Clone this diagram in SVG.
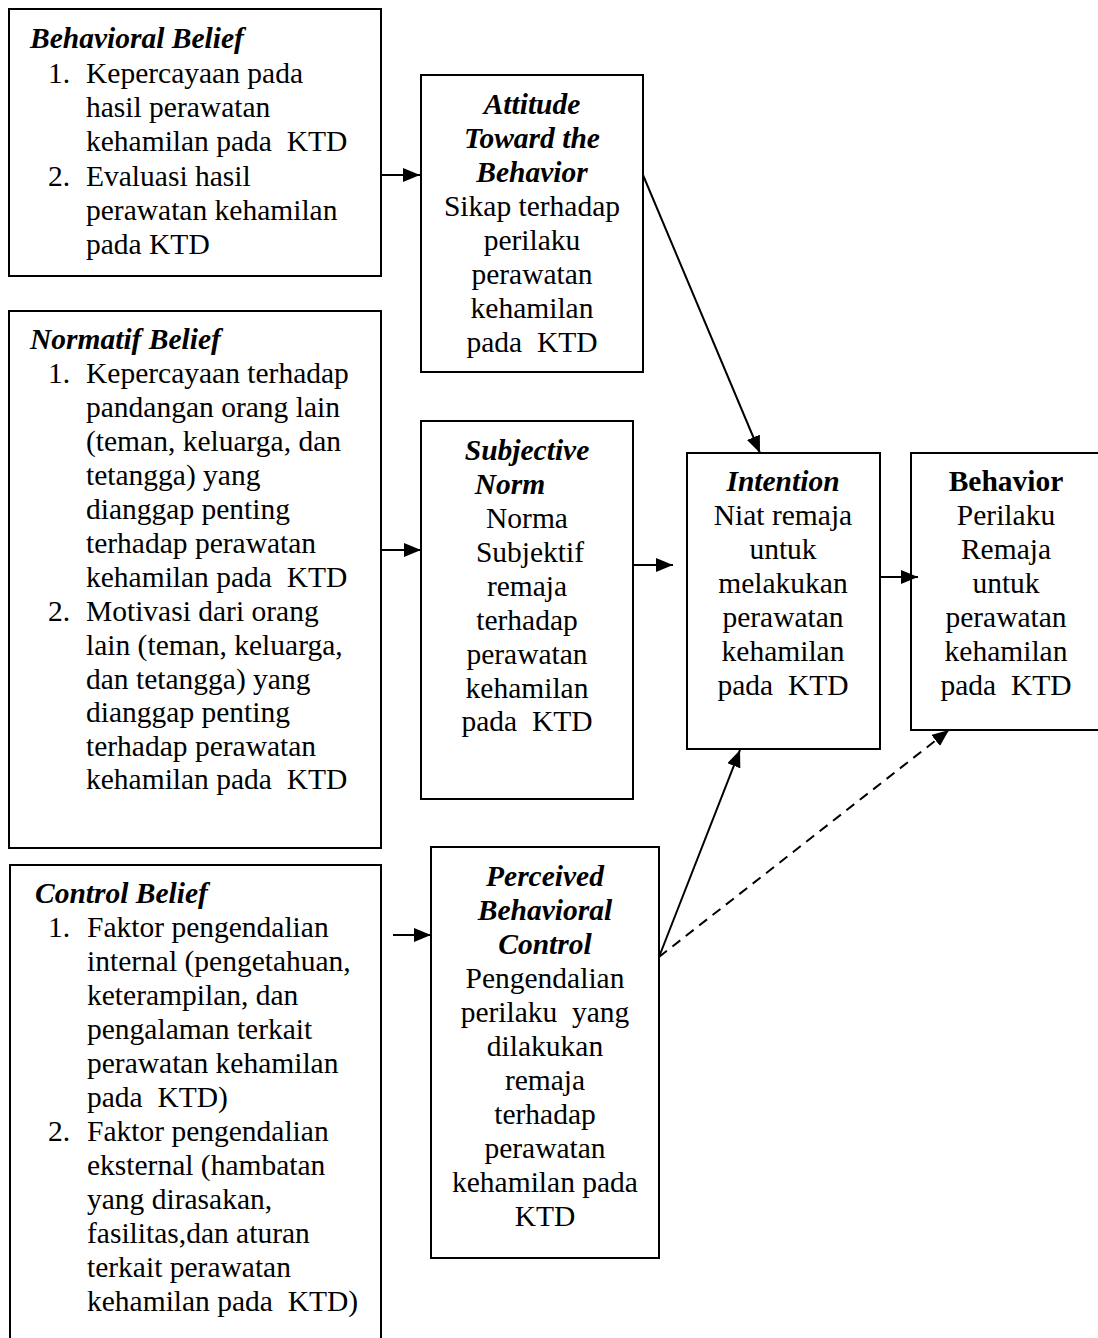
<svg xmlns="http://www.w3.org/2000/svg" width="1098" height="1338" viewBox="0 0 1098 1338">
<style>
.box{fill:#fff;stroke:#000;stroke-width:2}
.tx text{font-size:29.5px;fill:#000}
.t{font-weight:bold;font-style:italic}
.b{font-weight:bold}
.c{text-anchor:middle}
.ln{stroke:#000;stroke-width:2;fill:none}
.dash{stroke-dasharray:10,7}
</style>
<defs>
<marker id="ah" viewBox="0 0 17 14" refX="17" refY="7" markerWidth="17" markerHeight="14" markerUnits="userSpaceOnUse" orient="auto">
<path d="M0,0 L17,7 L0,14 z" fill="#000"/>
</marker>
</defs>
<rect width="1098" height="1338" fill="#fff"/>

<g class="tx" font-family="Liberation Serif, Tinos, 'Times New Roman', 'DejaVu Serif', serif">
<g id="behavioral-belief">
<rect class="box" x="9" y="9" width="372" height="267"/>
<text class="t" x="30" y="48">Behavioral Belief</text>
<text x="48" y="83">1.</text><text x="86" y="83">Kepercayaan pada</text>
<text x="86" y="117">hasil perawatan</text>
<text x="86" y="151" xml:space="preserve">kehamilan pada  KTD</text>
<text x="48" y="186">2.</text><text x="86" y="186">Evaluasi hasil</text>
<text x="86" y="220">perawatan kehamilan</text>
<text x="86" y="254">pada KTD</text>
</g>

<g id="attitude">
<rect class="box" x="421" y="75" width="222" height="297"/>
<text class="t c" x="532" y="114">Attitude</text>
<text class="t c" x="532" y="148">Toward the</text>
<text class="t c" x="532" y="182">Behavior</text>
<text class="c" x="532" y="216">Sikap terhadap</text>
<text class="c" x="532" y="250">perilaku</text>
<text class="c" x="532" y="284">perawatan</text>
<text class="c" x="532" y="318">kehamilan</text>
<text class="c" x="532" y="352" xml:space="preserve">pada  KTD</text>
</g>

<g id="normatif-belief">
<rect class="box" x="9" y="311" width="372" height="537"/>
<text class="t" x="30" y="349">Normatif Belief</text>
<text x="48" y="383">1.</text><text x="86" y="383">Kepercayaan terhadap</text>
<text x="86" y="417">pandangan orang lain</text>
<text x="86" y="451">(teman, keluarga, dan</text>
<text x="86" y="485">tetangga) yang</text>
<text x="86" y="519">dianggap penting</text>
<text x="86" y="553">terhadap perawatan</text>
<text x="86" y="587" xml:space="preserve">kehamilan pada  KTD</text>
<text x="48" y="621">2.</text><text x="86" y="621">Motivasi dari orang</text>
<text x="86" y="655">lain (teman, keluarga,</text>
<text x="86" y="689">dan tetangga) yang</text>
<text x="86" y="722">dianggap penting</text>
<text x="86" y="756">terhadap perawatan</text>
<text x="86" y="789" xml:space="preserve">kehamilan pada  KTD</text>
</g>

<g id="subjective-norm">
<rect class="box" x="421" y="421" width="212" height="378"/>
<text class="t c" x="527" y="460">Subjective</text>
<text class="t c" x="510" y="494">Norm</text>
<text class="c" x="527" y="528">Norma</text>
<text class="c" x="530" y="562">Subjektif</text>
<text class="c" x="527" y="596">remaja</text>
<text class="c" x="527" y="630">terhadap</text>
<text class="c" x="527" y="664">perawatan</text>
<text class="c" x="527" y="698">kehamilan</text>
<text class="c" x="527" y="731" xml:space="preserve">pada  KTD</text>
</g>

<g id="intention">
<rect class="box" x="687" y="453" width="193" height="296"/>
<text class="t c" x="783" y="491">Intention</text>
<text class="c" x="783" y="525">Niat remaja</text>
<text class="c" x="783" y="559">untuk</text>
<text class="c" x="783" y="593">melakukan</text>
<text class="c" x="783" y="627">perawatan</text>
<text class="c" x="783" y="661">kehamilan</text>
<text class="c" x="783" y="695" xml:space="preserve">pada  KTD</text>
</g>

<g id="behavior">
<rect class="box" x="911" y="453" width="192" height="277"/>
<text class="b c" x="1006" y="491">Behavior</text>
<text class="c" x="1006" y="525">Perilaku</text>
<text class="c" x="1006" y="559">Remaja</text>
<text class="c" x="1006" y="593">untuk</text>
<text class="c" x="1006" y="627">perawatan</text>
<text class="c" x="1006" y="661">kehamilan</text>
<text class="c" x="1006" y="695" xml:space="preserve">pada  KTD</text>
</g>

<g id="control-belief">
<rect class="box" x="10" y="865" width="371" height="490"/>
<text class="t" x="35" y="903">Control Belief</text>
<text x="48" y="937">1.</text><text x="87" y="937">Faktor pengendalian</text>
<text x="87" y="971">internal (pengetahuan,</text>
<text x="87" y="1005">keterampilan, dan</text>
<text x="87" y="1039">pengalaman terkait</text>
<text x="87" y="1073">perawatan kehamilan</text>
<text x="87" y="1107" xml:space="preserve">pada  KTD)</text>
<text x="48" y="1141">2.</text><text x="87" y="1141">Faktor pengendalian</text>
<text x="87" y="1175">eksternal (hambatan</text>
<text x="87" y="1209">yang dirasakan,</text>
<text x="87" y="1243">fasilitas,dan aturan</text>
<text x="87" y="1277">terkait perawatan</text>
<text x="87" y="1311" xml:space="preserve">kehamilan pada  KTD)</text>
</g>

<g id="perceived-behavioral-control">
<rect class="box" x="431" y="847" width="228" height="411"/>
<text class="t c" x="545" y="886">Perceived</text>
<text class="t c" x="545" y="920">Behavioral</text>
<text class="t c" x="545" y="954">Control</text>
<text class="c" x="545" y="988">Pengendalian</text>
<text class="c" x="545" y="1022" xml:space="preserve">perilaku  yang</text>
<text class="c" x="545" y="1056">dilakukan</text>
<text class="c" x="545" y="1090">remaja</text>
<text class="c" x="545" y="1124">terhadap</text>
<text class="c" x="545" y="1158">perawatan</text>
<text class="c" x="545" y="1192">kehamilan pada</text>
<text class="c" x="545" y="1226">KTD</text>
</g>
</g>

<g id="connectors">
<line class="ln" x1="381" y1="175" x2="420" y2="175" marker-end="url(#ah)"/>
<line class="ln" x1="381" y1="550" x2="421" y2="550" marker-end="url(#ah)"/>
<line class="ln" x1="393" y1="935" x2="431" y2="935" marker-end="url(#ah)"/>
<line class="ln" x1="633" y1="565" x2="673" y2="565" marker-end="url(#ah)"/>
<line class="ln" x1="880" y1="577" x2="918" y2="577" marker-end="url(#ah)"/>
<line class="ln" x1="643" y1="175" x2="760" y2="453" marker-end="url(#ah)"/>
<line class="ln" x1="659" y1="957" x2="740" y2="750" marker-end="url(#ah)"/>
<line class="ln dash" x1="659" y1="957" x2="949" y2="730" marker-end="url(#ah)"/>
</g>
</svg>
